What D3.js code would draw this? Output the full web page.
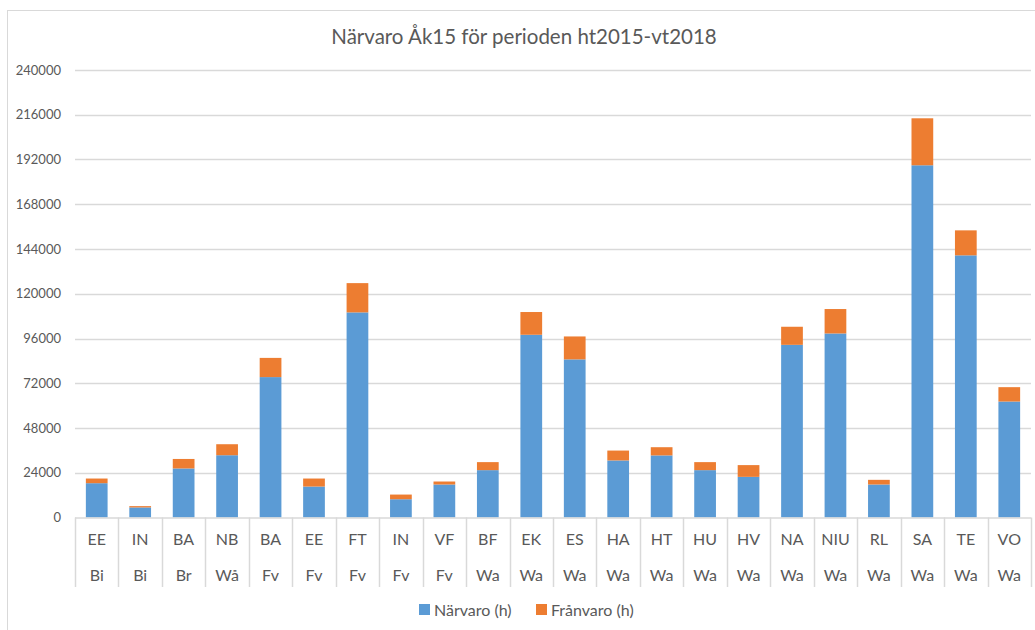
<!DOCTYPE html>
<html>
<head>
<meta charset="utf-8">
<script src="https://cdn.jsdelivr.net/npm/d3@7"></script>
<style>
  body { margin: 0; background: #fff; }
  text { font-family: Lato, "Open Sans", sans-serif; fill: #595959; }
</style>
</head>
<body>
<div id="chart"></div>
<script>
// data
var schools = ["EE","IN","BA","NB","BA","EE","FT","IN","VF","BF","EK","ES","HA","HT","HU","HV","NA","NIU","RL","SA","TE","VO"];
var areas = ["Bi","Bi","Br","Wå","Fv","Fv","Fv","Fv","Fv","Wa","Wa","Wa","Wa","Wa","Wa","Wa","Wa","Wa","Wa","Wa","Wa","Wa"];
var narvaro = [18400, 5400, 26300, 33400, 75300, 16600, 110000, 9800, 17700, 25400, 98000, 84800, 30600, 33300, 25400, 21800, 92600, 98700, 17700, 188900, 140600, 62200];
var franvaro = [2500, 700, 5100, 5900, 10300, 4300, 15700, 2500, 1600, 4300, 12200, 12300, 5300, 4400, 4300, 6300, 9700, 13100, 2500, 25200, 13400, 7700];
var yTicks = [0, 24000, 48000, 72000, 96000, 120000, 144000, 168000, 192000, 216000, 240000];
var seriesNames = ["Närvaro (h)", "Frånvaro (h)"];
var seriesColors = ["#5b9bd5", "#ed7d31"];

var width = 1035, height = 630;
var plot = {left: 75, right: 1031, top: 70, bottom: 517.5};

var svg = d3.select("#chart")
  .append("svg")
    .attr("width", width)
    .attr("height", height);

// outer chart border
svg.append("rect")
  .attr("x", 7.5).attr("y", 10.5)
  .attr("width", 1040).attr("height", 640)
  .attr("fill", "none")
  .attr("stroke", "#d9d9d9");

var rows = schools.map(function(s, i) {
  return {i: i, school: s, area: areas[i], narvaro: narvaro[i], franvaro: franvaro[i]};
});

var x = d3.scaleBand()
  .domain(rows.map(function(d) { return d.i; }))
  .range([plot.left, plot.right])
  .paddingInner(0.5)
  .paddingOuter(0.25);

var y = d3.scaleLinear()
  .domain([0, 240000])
  .range([plot.bottom, plot.top]);

// gridlines
svg.append("g")
  .selectAll("line")
  .data(yTicks.slice(1))
  .enter()
  .append("line")
    .attr("x1", plot.left).attr("x2", plot.right)
    .attr("y1", function(d) { return Math.round(y(d)) + 0.5; })
    .attr("y2", function(d) { return Math.round(y(d)) + 0.5; })
    .attr("stroke", "#d9d9d9")
    .attr("stroke-width", 1.5);

// y tick labels
svg.append("g")
  .selectAll("text")
  .data(yTicks)
  .enter()
  .append("text")
    .attr("x", 61)
    .attr("y", function(d) { return y(d); })
    .attr("dy", "0.35em")
    .attr("text-anchor", "end")
    .style("font-size", "13px")
    .text(function(d) { return d; });

// stacked bars
var stack = d3.stack().keys(["narvaro", "franvaro"]);
var layers = stack(rows);

svg.append("g")
  .selectAll("g")
  .data(layers)
  .enter()
  .append("g")
    .attr("fill", function(d, i) { return seriesColors[i]; })
  .selectAll("rect")
  .data(function(d) { return d; })
  .enter()
  .append("rect")
    .attr("x", function(d) { return x(d.data.i); })
    .attr("width", x.bandwidth())
    .attr("y", function(d) { return y(d[1]); })
    .attr("height", function(d) { return y(d[0]) - y(d[1]); });

// category axis: baseline, separators, two label rows
var axisBottom = 587;
svg.append("line")
  .attr("x1", plot.left).attr("x2", plot.right)
  .attr("y1", plot.bottom + 0.5).attr("y2", plot.bottom + 0.5)
  .attr("stroke", "#d9d9d9")
  .attr("stroke-width", 1.5);

var edges = d3.range(rows.length + 1).map(function(k) { return plot.left + k * (plot.right - plot.left) / rows.length; });
svg.append("g")
  .selectAll("line")
  .data(edges)
  .enter()
  .append("line")
    .attr("x1", function(d) { return Math.round(d) + 0.5; })
    .attr("x2", function(d) { return Math.round(d) + 0.5; })
    .attr("y1", plot.bottom)
    .attr("y2", axisBottom)
    .attr("stroke", "#d9d9d9")
    .attr("stroke-width", 1.5);

var labels = svg.append("g")
  .selectAll("g")
  .data(rows)
  .enter()
  .append("g")
    .attr("transform", function(d) { return "translate(" + (x(d.i) + x.bandwidth() / 2) + ",0)"; });

labels.append("text")
  .attr("y", 545)
  .attr("text-anchor", "middle")
  .style("font-size", "16px")
  .text(function(d) { return d.school; });

labels.append("text")
  .attr("y", 581)
  .attr("text-anchor", "middle")
  .style("font-size", "16px")
  .text(function(d) { return d.area; });

// title
svg.append("text")
  .attr("x", 524)
  .attr("y", 44)
  .attr("text-anchor", "middle")
  .style("font-size", "20.5px")
  .text("Närvaro Åk15 för perioden ht2015-vt2018");

// legend
var legendX = [419, 536];
var legend = svg.append("g")
  .selectAll("g")
  .data(seriesNames)
  .enter()
  .append("g")
    .attr("transform", function(d, i) { return "translate(" + legendX[i] + ",604)"; });

legend.append("rect")
  .attr("width", 11).attr("height", 11)
  .attr("fill", function(d, i) { return seriesColors[i]; });

legend.append("text")
  .attr("x", 15)
  .attr("y", 6)
  .attr("dy", "0.35em")
  .style("font-size", "16px")
  .text(function(d) { return d; });
</script>
</body>
</html>
